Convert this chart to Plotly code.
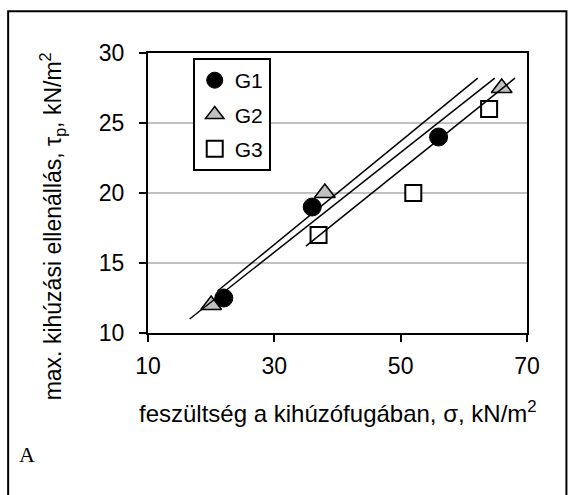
import plotly.graph_objects as go

# ---- data ----
groups = ["G1", "G2", "G3"]
g1_x = [22, 36, 56]
g1_y = [12.5, 19, 24]
g2_x = [20, 38, 66]
g2_y = [12, 20, 27.5]
g3_x = [37, 52, 64]
g3_y = [17, 20, 26]

# trend lines (start/end as drawn in the reference)
trend_a_x = [21.0, 62.2]
trend_a_y = [13.0, 28.2]
trend_b_x = [16.6, 64.9]
trend_b_y = [11.0, 28.2]
trend_c_x = [35.0, 68.1]
trend_c_y = [16.2, 28.2]

x_ticks = [10, 30, 50, 70]
y_ticks = [10, 15, 20, 25, 30]

FONT = "Arial, Liberation Sans, sans-serif"

fig = go.Figure()

fig.add_trace(go.Scatter(
    x=g1_x, y=g1_y, mode="markers", name=groups[0], legendgroup="a",
    marker=dict(symbol="circle", size=18, color="black",
                line=dict(color="black", width=1))))
fig.add_trace(go.Scatter(
    x=g2_x, y=g2_y, mode="markers", name=groups[1], legendgroup="b",
    marker=dict(symbol="triangle-up", size=18, color="#c0c0c0",
                line=dict(color="black", width=1.5))))
fig.add_trace(go.Scatter(
    x=g3_x, y=g3_y, mode="markers", name=groups[2], legendgroup="c",
    marker=dict(symbol="square", size=16, color="white",
                line=dict(color="black", width=2))))

for tx, ty in [(trend_a_x, trend_a_y), (trend_b_x, trend_b_y), (trend_c_x, trend_c_y)]:
    fig.add_trace(go.Scatter(x=tx, y=ty, mode="lines", showlegend=False,
                             line=dict(color="black", width=1.5),
                             hoverinfo="skip"))

fig.update_layout(
    width=574, height=495,
    margin=dict(l=148, r=47, t=53, b=162, pad=0),
    paper_bgcolor="white", plot_bgcolor="white",
    font=dict(family=FONT, size=22, color="black"),
    showlegend=True,
    legend=dict(x=0.118, y=0.982, xanchor="left", yanchor="top",
                bgcolor="white", bordercolor="black", borderwidth=2,
                font=dict(family=FONT, size=21, color="black"),
                traceorder="grouped", tracegroupgap=4),
    xaxis=dict(range=[10, 70], tickvals=x_ticks, ticks="outside", ticklen=7,
               tickwidth=2, tickcolor="black", showline=True, linecolor="black",
               linewidth=2, mirror=True, showgrid=False, zeroline=False,
               ticklabelstandoff=4, tickfont=dict(size=23)),
    yaxis=dict(range=[10, 30], tickvals=y_ticks, ticks="outside", ticklen=7,
               tickwidth=2, tickcolor="black", showline=True, linecolor="black",
               linewidth=2, mirror=True, showgrid=True, gridcolor="#c0c0c0",
               gridwidth=2, zeroline=False, ticklabelstandoff=10,
               tickfont=dict(size=23)),
)

fig.add_annotation(
    text="feszültség a kihúzófugában, σ, kN/m<sup>2</sup>",
    xref="paper", yref="paper", x=0.5, y=-0.281, xanchor="center", yanchor="middle",
    showarrow=False, font=dict(family=FONT, size=24, color="black"))
fig.add_annotation(
    text="max. kihúzási ellenállás, τ<sub>p</sub>, kN/m<sup>2</sup>",
    xref="paper", yref="paper", x=-0.254, y=0.38, xanchor="center", yanchor="middle",
    textangle=-90, showarrow=False, font=dict(family=FONT, size=23, color="black"))
fig.add_annotation(
    text="A", xref="paper", yref="paper", x=-0.319, y=-0.433,
    xanchor="center", yanchor="middle", showarrow=False,
    font=dict(family="Liberation Serif, Times New Roman, serif", size=22, color="black"))

# outer frame
fig.add_shape(type="rect", xref="paper", yref="paper",
              x0=-0.369, x1=1.104, y0=-0.62, y1=1.149,
              line=dict(color="black", width=2), layer="below")

fig.write_html("out.html", config={"displayModeBar": False},
               post_script="document.body.style.margin='0';")
